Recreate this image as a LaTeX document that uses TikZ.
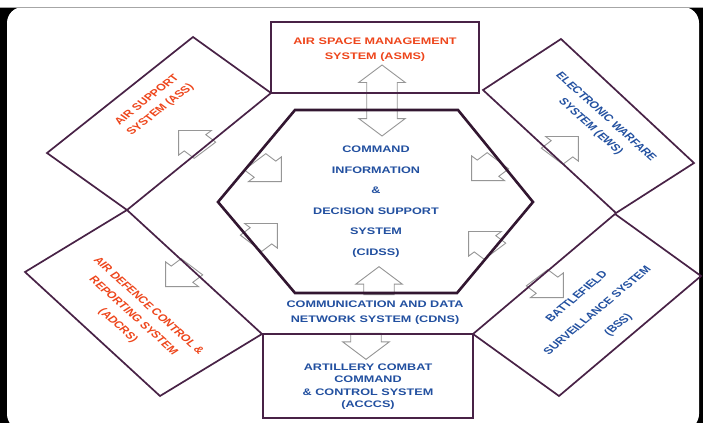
\documentclass[tikz,border=0pt]{standalone}
\usepackage{fontspec}
\setmainfont{Liberation Sans}
\usetikzlibrary{shapes.arrows}
\definecolor{framepurple}{RGB}{72,34,70}
\definecolor{hexpurple}{RGB}{50,22,48}
\definecolor{sysred}{RGB}{238,70,28}
\definecolor{sysblue}{RGB}{34,80,160}
\definecolor{arrowgray}{RGB}{150,150,150}

\begin{document}
\begin{tikzpicture}[x=1pt,y=-1pt,
  box/.style={draw=framepurple,line width=1.7pt},
  hexbox/.style={draw=hexpurple,line width=2.6pt},
  hollow/.style={single arrow,draw=arrowgray,fill=white,line width=0.9pt,
    inner xsep=0pt,inner ysep=11pt,single arrow head extend=6pt,
    minimum height=#1,anchor=tip,xscale=1.33},
  hollow/.default=28pt,
  hollowboth/.style={double arrow,draw=arrowgray,fill=white,line width=0.9pt,
    inner xsep=0pt,inner ysep=11pt,double arrow head extend=6pt,
    minimum height=#1,xscale=1.33},
  lbl/.style={align=center,font=\bfseries\fontsize{9.5}{#1}\selectfont,
    inner sep=0pt,xscale=1.33},
  redlbl/.style={lbl=#1,text=sysred},
  redlbl/.default=15,
  bluelbl/.style={lbl=#1,text=sysblue},
  bluelbl/.default=15]
\useasboundingbox (0,0) rectangle (703,423);
\fill (0,7) rectangle (703,423);
\fill[white] (0,0) rectangle (703,7);
\fill[white,rounded corners=16pt] (7,7) rectangle (699,430);
\draw[black!35,line width=0.8pt] (0,7) -- (703,7);

% flow arrows
\node[hollowboth=71pt,rotate=90] (asmsflow) at (382,100.5) {};
\node[hollow=28pt,rotate=90] (cdnsup) at (379,266) {};
\node[hollow=26pt,rotate=-90] (acccsdown) at (366,360) {};
\node[hollow,rotate=135] (assout) at (178,130) {};
\node[hollow,rotate=45] (ewsout) at (579,136) {};
\node[hollow,rotate=-135] (adcrsout) at (165,287) {};
\node[hollow,rotate=-45] (bssout) at (564,298) {};
\node[hollow,rotate=-45] (coreul) at (282,182) {};
\node[hollow,rotate=45] (corell) at (278,223) {};
\node[hollow,rotate=-135] (coreur) at (471,181) {};
\node[hollow,rotate=135] (corelr) at (468,231) {};

% outer ring of sub-systems
\draw[box] (271,22) rectangle (479,93);
\draw[box] (263,334) rectangle (473,418);
\draw[box] (47,153) -- (193,37) -- (271,93) -- (127,210) -- cycle;
\draw[box] (483,90) -- (561,39) -- (694,163) -- (616,213) -- cycle;
\draw[box] (473,334) -- (615,214) -- (701,276) -- (559,396) -- cycle;
\draw[box] (127,210) -- (262,334) -- (160,396) -- (25,272) -- cycle;
% CIDSS core
\draw[hexbox] (295,110) -- (458,110) -- (533,202) -- (457,293) -- (295,293) -- (218,202) -- cycle;

% labels
\node[redlbl] (asms) at (375,50) {AIR SPACE MANAGEMENT\\SYSTEM (ASMS)};
\node[redlbl=14,rotate=46] (ass) at (154,105) {AIR SUPPORT\\SYSTEM (ASS)};
\node[bluelbl,rotate=-50] (ews) at (598,122) {ELECTRONIC WARFARE\\SYSTEM (EWS)};
\node[redlbl,rotate=-50] (adcrs) at (133,316) {AIR DEFENCE CONTROL \&\\REPORTING SYSTEM\\(ADCRS)};
\node[bluelbl=21,rotate=48] (bss) at (598,311) {BATTLEFIELD\\SURVEILLANCE SYSTEM\\(BSS)};
\node[bluelbl=20.5] (cidss) at (376,201.5) {COMMAND\\INFORMATION\\\&\\DECISION SUPPORT\\SYSTEM\\(CIDSS)};
\node[bluelbl] (cdns) at (375,312.5) {COMMUNICATION AND DATA\\NETWORK SYSTEM (CDNS)};
\node[bluelbl=12.5] (acccs) at (368,386.5) {ARTILLERY COMBAT\\COMMAND\\\& CONTROL SYSTEM\\(ACCCS)};
\end{tikzpicture}
\end{document}
